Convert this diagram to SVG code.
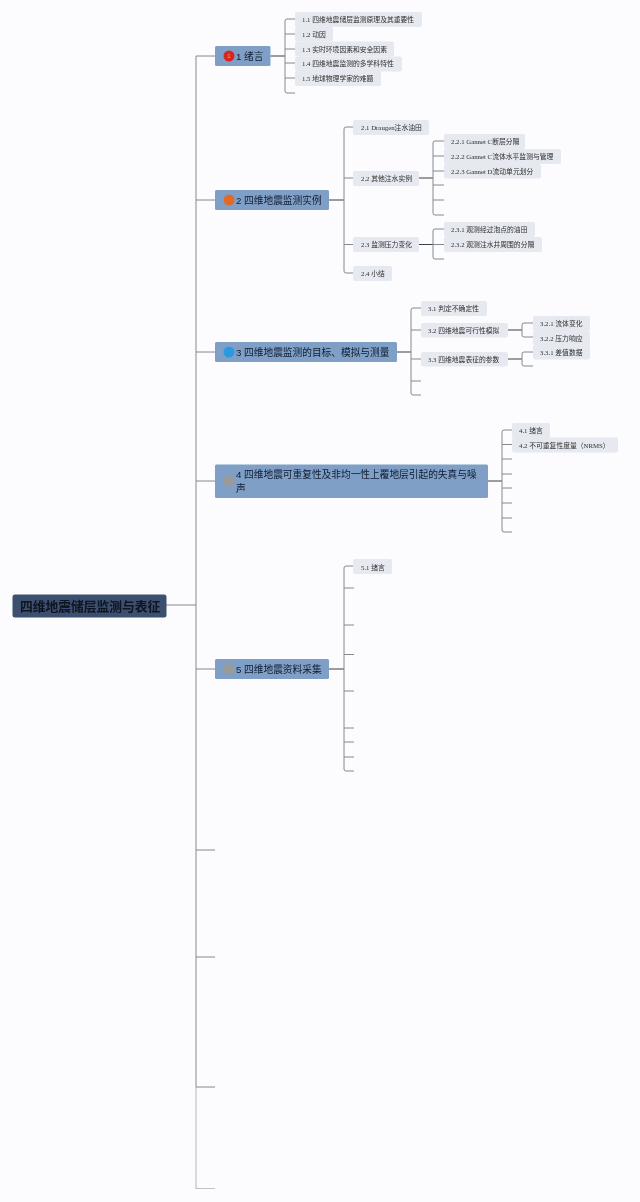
<svg xmlns="http://www.w3.org/2000/svg" width="640" height="1202" viewBox="0 0 640 1202">
<style>
.c{fill:none;stroke:#85888d;stroke-width:1}
.t{fill:none;stroke:#9a9ca0;stroke-width:1.2}
.d{fill:none;stroke:#3c3f45;stroke-width:1}
.l1{fill:#7f9fc6}
.lf{fill:#e6e9ef}
.tx{font-family:"Liberation Serif","Noto Sans CJK SC",serif;font-size:6.8px;fill:#2e2e2e}
.th{font-family:"Liberation Sans","Noto Sans CJK SC",sans-serif;font-size:9.7px;fill:#101c32}
.ic{font-family:"Liberation Sans",sans-serif;font-size:6px;text-anchor:middle}
</style>
<defs><filter id="soft" x="0" y="0" width="100%" height="100%"><feGaussianBlur stdDeviation="0.3"/></filter></defs>
<rect width="640" height="1202" fill="#fcfcfe"/>
<g filter="url(#soft)">
<g id="connectors">
<path class="t" d="M196 56V1087"/>
<path d="M196 1087V1189" fill="none" stroke="#c2c3c6" stroke-width="1.2"/>
<path class="c" d="M166 605H196M196 56H215M196 200H215M196 352H215M196 481H215M196 669H215M196 850H215M196 957H215M196 1087H215M196 1189H215"/>
<path class="d" d="M270.500 56H285M329 200H344M397 352H411M488 481H502M329 669H344M419 178H433M419 244.500H433M508 330H522M508 359H522"/>
<path class="c" d="M295 19H287Q285 19 285 21V91Q285 93 287 93H295M285 34H295M285 49H295M285 63H295M285 78H295"/>
<path class="c" d="M353 127H346Q344 127 344 129V271Q344 273 346 273H353M344 178H353M344 244.500H353"/>
<path class="c" d="M444 141H435Q433 141 433 143V213Q433 215 435 215H444M433 156H444M433 171H444M433 185H444M433 200H444"/>
<path class="c" d="M444 229H435Q433 229 433 231V257Q433 259 435 259H444M433 244.500H444"/>
<path class="c" d="M421 308H413Q411 308 411 310V393Q411 395 413 395H421M411 330H421M411 359H421M411 381H421"/>
<path class="c" d="M533 323H524Q522 323 522 325V335Q522 337 524 337H533"/>
<path class="c" d="M533 352H524Q522 352 522 354V364Q522 366 524 366H533"/>
<path class="c" d="M512 430H504Q502 430 502 432V530Q502 532 504 532H512M502 444.500H512M502 459H512M502 474H512M502 488H512M502 503H512M502 518H512"/>
<path class="c" d="M354 566H346Q344 566 344 568V769Q344 771 346 771H354M344 588H354M344 625H354M344 654.500H354M344 691H354M344 728H354M344 742H354M344 757H354"/>
</g>
<g id="root"><rect x="12.500" y="594.500" width="154" height="23" rx="2.500" fill="#3d4f6e"/><text x="20" y="610.500" font-family="Liberation Sans,Noto Sans CJK SC,sans-serif" font-size="12.750" font-weight="700" fill="#0c1220">四维地震储层监测与表征</text></g>
<g id="n1"><rect class="l1" x="215" y="46" width="55.500" height="20" rx="1.500"/><circle cx="229" cy="56" r="5.500" fill="#d8281c"/><text class="ic" x="229" y="58" fill="#f0a090">1</text><text class="th" x="236" y="60">1 绪言</text></g>
<g id="n2"><rect class="l1" x="215" y="190" width="114" height="20" rx="1.500"/><circle cx="229" cy="200" r="5.500" fill="#e06a2a"/><text class="th" x="236" y="204">2 四维地震监测实例</text></g>
<g id="n3"><rect class="l1" x="215" y="342" width="182" height="20" rx="1.500"/><circle cx="229" cy="352" r="5.500" fill="#2c9ae0"/><text class="th" x="236" y="356">3 四维地震监测的目标、模拟与测量</text></g>
<g id="n4"><rect class="l1" x="215" y="464.500" width="273" height="33.500" rx="1.500"/><circle cx="229" cy="481" r="5.500" fill="#9a9a9a"/><text class="th" x="236" y="478">4 四维地震可重复性及非均一性上覆地层引起的失真与噪</text><text class="th" x="236" y="492">声</text></g>
<g id="n5"><rect class="l1" x="215" y="659" width="114" height="20" rx="1.500"/><circle cx="229" cy="669" r="5.500" fill="#9a9a9a"/><text class="th" x="236" y="673">5 四维地震资料采集</text></g>
<g id="n11"><rect class="lf" x="295" y="12" width="127" height="15" rx="2"/><text class="tx" x="302" y="22">1.1 四维地震储层监测原理及其重要性</text></g>
<g id="n12"><rect class="lf" x="295" y="27" width="38" height="14.500" rx="2"/><text class="tx" x="302" y="37">1.2 动因</text></g>
<g id="n13"><rect class="lf" x="295" y="41.500" width="99" height="15" rx="2"/><text class="tx" x="302" y="51.500">1.3 实时环境因素和安全因素</text></g>
<g id="n14"><rect class="lf" x="295" y="56.500" width="107" height="15" rx="2"/><text class="tx" x="302" y="66">1.4 四维地震监测的多学科特性</text></g>
<g id="n15"><rect class="lf" x="295" y="71" width="86" height="15" rx="2"/><text class="tx" x="302" y="81">1.5 地球物理学家的难题</text></g>
<g id="n21"><rect class="lf" x="353" y="120" width="76" height="15" rx="2"/><text class="tx" x="361" y="130">2.1 Draugen注水油田</text></g>
<g id="n22"><rect class="lf" x="353" y="171" width="66" height="15" rx="2"/><text class="tx" x="361" y="181">2.2 其他注水实例</text></g>
<g id="n23"><rect class="lf" x="353" y="237" width="66" height="15" rx="2"/><text class="tx" x="361" y="247">2.3 监测压力变化</text></g>
<g id="n24"><rect class="lf" x="353" y="266" width="39" height="15" rx="2"/><text class="tx" x="361" y="276">2.4 小结</text></g>
<g id="n221"><rect class="lf" x="444" y="134" width="81" height="15" rx="2"/><text class="tx" x="451" y="144">2.2.1 Gannet C断层分隔</text></g>
<g id="n222"><rect class="lf" x="444" y="149" width="117" height="15" rx="2"/><text class="tx" x="451" y="159">2.2.2 Gannet C流体水平监测与管理</text></g>
<g id="n223"><rect class="lf" x="444" y="164" width="97" height="14.500" rx="2"/><text class="tx" x="451" y="174">2.2.3 Gannet D流动单元划分</text></g>
<g id="n231"><rect class="lf" x="444" y="222" width="91" height="15" rx="2"/><text class="tx" x="451" y="232">2.3.1 观测经过泡点的油田</text></g>
<g id="n232"><rect class="lf" x="444" y="237" width="98" height="15" rx="2"/><text class="tx" x="451" y="247">2.3.2 观测注水井周围的分隔</text></g>
<g id="n31"><rect class="lf" x="421" y="301" width="66" height="15" rx="2"/><text class="tx" x="428" y="311">3.1 判定不确定性</text></g>
<g id="n32"><rect class="lf" x="421" y="323" width="87" height="14.500" rx="2"/><text class="tx" x="428" y="333">3.2 四维地震可行性模拟</text></g>
<g id="n33"><rect class="lf" x="421" y="352" width="87" height="14.500" rx="2"/><text class="tx" x="428" y="362">3.3 四维地震表征的参数</text></g>
<g id="n321"><rect class="lf" x="533" y="316" width="57" height="15" rx="2"/><text class="tx" x="540" y="326">3.2.1 流体变化</text></g>
<g id="n322"><rect class="lf" x="533" y="331" width="57" height="14.500" rx="2"/><text class="tx" x="540" y="340.500">3.2.2 压力响应</text></g>
<g id="n331"><rect class="lf" x="533" y="345" width="57" height="14.500" rx="2"/><text class="tx" x="540" y="355">3.3.1 差值数据</text></g>
<g id="n41"><rect class="lf" x="512" y="423" width="38" height="15" rx="2"/><text class="tx" x="519" y="433">4.1 绪言</text></g>
<g id="n42"><rect class="lf" x="512" y="437.500" width="106" height="15" rx="2"/><text class="tx" x="519" y="447.500">4.2 不可重复性度量（NRMS）</text></g>
<g id="n51"><rect class="lf" x="353" y="559" width="39" height="15" rx="2"/><text class="tx" x="361" y="569.500">5.1 绪言</text></g>
</g>
</svg>
